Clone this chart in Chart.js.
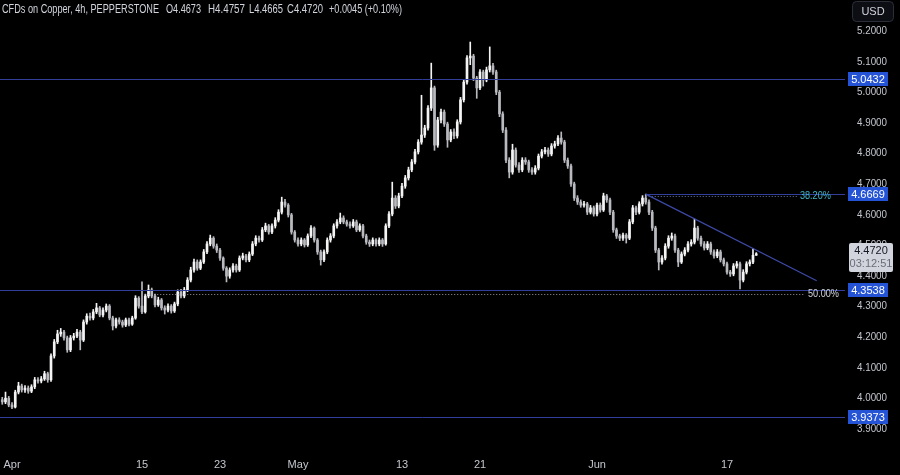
<!DOCTYPE html>
<html><head><meta charset="utf-8">
<script src="https://cdn.jsdelivr.net/npm/chart.js@4.4.1/dist/chart.umd.min.js"></script>
<style>html,body{margin:0;padding:0;background:#000;overflow:hidden}canvas{display:block}</style>
</head><body>
<canvas id="c" width="900" height="475"></canvas>
<script>
// ---- data (4h candles, CFDs on Copper) ----
const firstIndex = -3; // index of first candle (bar slots, Apr 1 first bar = 0)
const opens = [
3.995,3.988,4.000,3.978,3.971,4.020,4.040,4.027,4.033,4.023,
4.037,4.060,4.056,4.063,4.080,4.060,4.138,4.184,4.210,4.216,
4.197,4.158,4.197,4.203,4.216,4.190,4.249,4.268,4.262,4.282,
4.295,4.272,4.288,4.301,4.262,4.236,4.256,4.249,4.239,4.256,
4.242,4.262,4.327,4.301,4.282,4.334,4.354,4.334,4.305,4.321,
4.295,4.288,4.301,4.285,4.308,4.347,4.334,4.354,4.386,4.419,
4.445,4.425,4.445,4.478,4.504,4.523,4.497,4.484,4.458,4.425,
4.399,4.419,4.432,4.419,4.458,4.465,4.452,4.471,4.504,4.523,
4.517,4.550,4.563,4.543,4.563,4.582,4.608,4.641,4.631,4.599,
4.543,4.517,4.504,4.517,4.501,4.530,4.556,4.517,4.478,4.452,
4.478,4.517,4.530,4.563,4.576,4.589,4.576,4.569,4.563,4.576,
4.550,4.563,4.530,4.510,4.504,4.517,4.504,4.517,4.504,4.563,
4.602,4.654,4.628,4.661,4.693,4.720,4.746,4.772,4.805,4.837,
4.860,4.883,4.948,5.014,4.827,4.909,4.935,4.896,4.844,4.870,
4.857,4.903,4.975,5.033,5.112,5.118,5.046,5.014,5.066,5.040,
5.073,5.086,5.066,5.000,4.929,4.876,4.778,4.739,4.811,4.762,
4.746,4.778,4.772,4.746,4.739,4.752,4.791,4.805,4.811,4.798,
4.824,4.831,4.850,4.837,4.778,4.759,4.700,4.654,4.641,4.631,
4.635,4.608,4.622,4.602,4.631,4.615,4.661,4.648,4.608,4.550,
4.530,4.523,4.533,4.523,4.576,4.622,4.608,4.635,4.654,4.641,
4.608,4.556,4.484,4.445,4.458,4.497,4.523,4.530,4.484,4.445,
4.471,4.484,4.504,4.510,4.556,4.523,4.504,4.491,4.504,4.478,
4.465,4.478,4.452,4.439,4.412,4.406,4.432,4.439,4.386,4.412,
4.439,4.445,4.4673];
const highs = [
4.003,4.020,4.006,3.986,4.026,4.052,4.046,4.041,4.040,4.044,
4.068,4.067,4.071,4.088,4.085,4.145,4.192,4.222,4.228,4.222,
4.203,4.205,4.212,4.225,4.222,4.256,4.276,4.278,4.290,4.310,
4.300,4.295,4.308,4.306,4.268,4.262,4.263,4.255,4.262,4.262,
4.268,4.335,4.332,4.380,4.340,4.370,4.360,4.340,4.330,4.326,
4.302,4.308,4.306,4.314,4.354,4.356,4.362,4.394,4.428,4.455,
4.452,4.452,4.486,4.512,4.533,4.528,4.504,4.490,4.462,4.430,
4.426,4.440,4.438,4.465,4.474,4.470,4.478,4.512,4.531,4.530,
4.558,4.572,4.568,4.570,4.590,4.616,4.657,4.650,4.636,4.604,
4.548,4.524,4.524,4.522,4.537,4.564,4.560,4.522,4.484,4.485,
4.524,4.538,4.570,4.584,4.605,4.596,4.582,4.576,4.584,4.582,
4.570,4.568,4.536,4.517,4.524,4.522,4.524,4.522,4.570,4.610,
4.706,4.662,4.670,4.702,4.728,4.755,4.780,4.813,4.845,4.990,
4.892,4.956,5.095,5.020,4.918,4.945,4.942,4.902,4.878,4.880,
4.910,4.983,5.042,5.120,5.164,5.124,5.052,5.074,5.072,5.082,
5.148,5.094,5.072,5.006,4.936,4.884,4.786,4.830,4.818,4.770,
4.786,4.786,4.778,4.754,4.760,4.798,4.813,4.820,4.818,4.832,
4.840,4.858,4.870,4.843,4.785,4.765,4.706,4.662,4.648,4.643,
4.640,4.630,4.628,4.638,4.638,4.670,4.666,4.654,4.614,4.556,
4.536,4.540,4.538,4.584,4.630,4.628,4.642,4.662,4.667,4.648,
4.614,4.562,4.490,4.466,4.505,4.531,4.540,4.536,4.490,4.478,
4.492,4.512,4.518,4.585,4.562,4.530,4.512,4.512,4.510,4.485,
4.486,4.484,4.458,4.445,4.418,4.440,4.447,4.445,4.420,4.446,
4.452,4.488,4.4757];
const lows = [
3.980,3.982,3.972,3.966,3.968,4.014,4.020,4.019,4.016,4.018,
4.031,4.049,4.050,4.058,4.052,4.055,4.131,4.178,4.202,4.190,
4.150,4.152,4.190,4.198,4.158,4.185,4.242,4.255,4.256,4.276,
4.266,4.266,4.282,4.256,4.223,4.230,4.242,4.232,4.234,4.236,
4.238,4.258,4.294,4.276,4.278,4.328,4.328,4.298,4.300,4.288,
4.275,4.282,4.278,4.280,4.302,4.328,4.328,4.348,4.380,4.412,
4.418,4.420,4.440,4.472,4.498,4.490,4.476,4.450,4.418,4.380,
4.392,4.412,4.412,4.414,4.452,4.445,4.446,4.466,4.498,4.510,
4.512,4.544,4.536,4.538,4.556,4.576,4.602,4.624,4.592,4.536,
4.510,4.497,4.498,4.494,4.496,4.525,4.510,4.470,4.435,4.446,
4.472,4.510,4.524,4.556,4.570,4.570,4.562,4.556,4.558,4.544,
4.545,4.524,4.503,4.496,4.498,4.497,4.498,4.496,4.500,4.557,
4.596,4.620,4.622,4.655,4.686,4.713,4.740,4.766,4.798,4.830,
4.852,4.876,4.940,4.810,4.820,4.900,4.888,4.820,4.838,4.848,
4.850,4.896,4.968,5.026,5.090,5.038,4.980,5.008,5.020,5.034,
5.066,5.058,4.992,4.920,4.868,4.770,4.720,4.732,4.755,4.738,
4.740,4.764,4.738,4.731,4.732,4.746,4.785,4.798,4.790,4.792,
4.817,4.825,4.830,4.770,4.751,4.692,4.646,4.633,4.624,4.624,
4.600,4.602,4.595,4.596,4.608,4.610,4.640,4.600,4.542,4.522,
4.515,4.516,4.507,4.518,4.570,4.600,4.602,4.628,4.634,4.600,
4.548,4.476,4.419,4.438,4.452,4.490,4.516,4.476,4.430,4.440,
4.465,4.478,4.497,4.504,4.516,4.497,4.484,4.485,4.470,4.458,
4.459,4.445,4.432,4.405,4.398,4.400,4.425,4.357,4.380,4.406,
4.432,4.440,4.4665];
const closes = [
3.988,4.000,3.978,3.971,4.020,4.040,4.027,4.033,4.023,4.037,
4.060,4.056,4.063,4.080,4.060,4.138,4.184,4.210,4.216,4.197,
4.158,4.197,4.203,4.216,4.190,4.249,4.268,4.262,4.282,4.295,
4.272,4.288,4.301,4.262,4.236,4.256,4.249,4.239,4.256,4.242,
4.262,4.327,4.301,4.282,4.334,4.354,4.334,4.305,4.321,4.295,
4.288,4.301,4.285,4.308,4.347,4.334,4.354,4.386,4.419,4.445,
4.425,4.445,4.478,4.504,4.523,4.497,4.484,4.458,4.425,4.399,
4.419,4.432,4.419,4.458,4.465,4.452,4.471,4.504,4.523,4.517,
4.550,4.563,4.543,4.563,4.582,4.608,4.641,4.631,4.599,4.543,
4.517,4.504,4.517,4.501,4.530,4.556,4.517,4.478,4.452,4.478,
4.517,4.530,4.563,4.576,4.589,4.576,4.569,4.563,4.576,4.550,
4.563,4.530,4.510,4.504,4.517,4.504,4.517,4.504,4.563,4.602,
4.654,4.628,4.661,4.693,4.720,4.746,4.772,4.805,4.837,4.860,
4.883,4.948,5.014,4.827,4.909,4.935,4.896,4.844,4.870,4.857,
4.903,4.975,5.033,5.112,5.118,5.046,5.014,5.066,5.040,5.073,
5.086,5.066,5.000,4.929,4.876,4.778,4.739,4.811,4.762,4.746,
4.778,4.772,4.746,4.739,4.752,4.791,4.805,4.811,4.798,4.824,
4.831,4.850,4.837,4.778,4.759,4.700,4.654,4.641,4.631,4.635,
4.608,4.622,4.602,4.631,4.615,4.661,4.648,4.608,4.550,4.530,
4.523,4.533,4.523,4.576,4.622,4.608,4.635,4.654,4.641,4.608,
4.556,4.484,4.445,4.458,4.497,4.523,4.530,4.484,4.445,4.471,
4.484,4.504,4.510,4.556,4.523,4.504,4.491,4.504,4.478,4.465,
4.478,4.452,4.439,4.412,4.406,4.432,4.439,4.386,4.412,4.439,
4.445,4.467,4.4720];

const xTickIndex  = [0, 40, 64, 88, 120, 144, 180, 220];
const xTickLabels = ['Apr', '15', '23', 'May', '13', '21', 'Jun', '17'];
const yTickValues = [3.9, 4.0, 4.1, 4.2, 4.3, 4.4, 4.5, 4.6, 4.7, 4.8, 4.9, 5.0, 5.1, 5.2];

const levelPrices = [5.0432, 4.6669, 4.3538, 3.9373];
const levelStart  = [null, 195, null, null];      // null = from left edge
const fibLabels = ['38.20%', '50.00%'];
const fibPrices = [4.660, 4.341];
const fibStart  = [195, 41];
const fibEnd    = [241.5, 244];
const trendIndex = [195, 247.6];
const trendPrice = [4.6669, 4.384];

const lastPrice = 4.4720;
const countdown = '03:12:51';
const headerParts = ['CFDs on Copper, 4h, PEPPERSTONE', 'O4.4673', 'H4.4757', 'L4.4665', 'C4.4720', '+0.0045 (+0.10%)'];

// ---- chart ----
const FONT = '"Liberation Sans", Arial, sans-serif';
const idx = closes.map((_, i) => firstIndex + i);
const wickData = idx.map((x, i) => ({x: x, y: [lows[i], highs[i]]}));
const bodyData = idx.map((x, i) => ({x: x, y: [opens[i], closes[i]]}));
const isUp = i => closes[i] >= opens[i];
const UP = '#f4f4f4', DOWN = '#b8bac0';

const overlay = {
  id: 'overlay',
  beforeDraw(chart) {
    const c = chart.ctx; c.save(); c.fillStyle = '#000'; c.fillRect(0, 0, chart.width, chart.height); c.restore();
  },
  afterDatasetsDraw(chart) {
    const c = chart.ctx, xs = chart.scales.x, ys = chart.scales.y, a = chart.chartArea;
    c.save();
    c.beginPath(); c.rect(a.left, a.top, a.right - a.left, a.bottom - a.top); c.clip();
    // horizontal levels
    c.strokeStyle = '#323f9a'; c.lineWidth = 1;
    levelPrices.forEach((p, i) => {
      const y = Math.round(ys.getPixelForValue(p)) + 0.5;
      const x0 = levelStart[i] === null ? a.left : xs.getPixelForValue(levelStart[i]);
      c.beginPath(); c.moveTo(x0, y); c.lineTo(a.right, y); c.stroke();
    });
    // fib dotted
    c.setLineDash([1, 2]);
    fibPrices.forEach((p, i) => {
      const y = Math.round(ys.getPixelForValue(p)) + 0.5;
      c.strokeStyle = i === 0 ? 'rgba(110,140,200,0.85)' : 'rgba(190,190,195,0.8)';
      c.beginPath(); c.moveTo(xs.getPixelForValue(fibStart[i]), y); c.lineTo(xs.getPixelForValue(fibEnd[i]), y); c.stroke();
    });
    c.setLineDash([]);
    // fib labels
    c.font = '11px ' + FONT; c.textBaseline = 'middle'; c.textAlign = 'left';
    fibLabels.forEach((t, i) => {
      c.fillStyle = i === 0 ? '#3fb6c8' : '#d1d4dc';
      c.fillText(t, xs.getPixelForValue(fibEnd[i]) + 3, ys.getPixelForValue(fibPrices[i]), 31);
    });
    // trend line
    c.strokeStyle = '#3d4aa8'; c.lineWidth = 1.2;
    c.beginPath();
    c.moveTo(xs.getPixelForValue(trendIndex[0]), ys.getPixelForValue(trendPrice[0]));
    c.lineTo(xs.getPixelForValue(trendIndex[1]), ys.getPixelForValue(trendPrice[1]));
    c.stroke();
    c.restore();
  },
  afterDraw(chart) {
    const c = chart.ctx, xs = chart.scales.x, ys = chart.scales.y, a = chart.chartArea;
    c.save();
    // axis tick labels (positions from the chart's own scales)
    c.font = '11px ' + FONT; c.fillStyle = '#c3c6ce';
    c.textAlign = 'left'; c.textBaseline = 'middle';
    yTickValues.forEach(v => c.fillText(v.toFixed(4), a.right + 12, ys.getPixelForValue(v), 30));
    c.textAlign = 'center';
    xTickIndex.forEach((k, i) => c.fillText(xTickLabels[i], xs.getPixelForValue(k), a.bottom + 15));
    // level price tags
    levelPrices.forEach(p => {
      const y = Math.round(ys.getPixelForValue(p));
      c.fillStyle = '#2453d6'; c.fillRect(848, y - 7, 40, 14);
      c.fillStyle = '#ffffff'; c.fillText(p.toFixed(4), 868, y + 0.5, 34);
    });
    // current price + countdown tag
    const yp = Math.round(ys.getPixelForValue(lastPrice));
    c.fillStyle = '#d1d4dc';
    c.beginPath(); c.roundRect(849, yp - 11, 44, 29, 2); c.fill();
    c.fillStyle = '#131722'; c.fillText(lastPrice.toFixed(4), 871, yp - 3);
    c.fillStyle = '#6a6d78'; c.fillText(countdown, 871, yp + 10);
    // USD button
    c.strokeStyle = '#2a2e39'; c.lineWidth = 1; c.fillStyle = '#0c0e14';
    c.beginPath(); c.roundRect(852.5, 1.5, 41, 20, 4); c.fill(); c.stroke();
    c.fillStyle = '#d1d4dc'; c.fillText('USD', 873, 12);
    // header
    c.textAlign = 'left'; c.textBaseline = 'alphabetic'; c.font = '12px ' + FONT; c.fillStyle = '#d1d4dc';
    const hx = [2, 166, 208, 249, 287, 329], hw = [157, 35, 37, 34, 36, 73];
    headerParts.forEach((t, i) => c.fillText(t, hx[i], 13, hw[i]));
    c.restore();
  }
};

new Chart(document.getElementById('c').getContext('2d'), {
  type: 'bar',
  data: { datasets: [
    { data: wickData, grouped: false, barThickness: 1, order: 2,
      backgroundColor: ctx => isUp(ctx.dataIndex) ? UP : DOWN },
    { data: bodyData, grouped: false, barThickness: 2, minBarLength: 1, order: 1,
      backgroundColor: ctx => isUp(ctx.dataIndex) ? UP : DOWN }
  ]},
  options: {
    responsive: false, animation: false, devicePixelRatio: 1,
    layout: { padding: 0 },
    plugins: { legend: { display: false }, tooltip: { enabled: false } },
    scales: {
      x: { type: 'linear', min: -3.6923, max: 256.3077, offset: false,
        grid: { display: false, drawTicks: false }, border: { display: false },
        afterBuildTicks: s => { s.ticks = xTickIndex.map(v => ({ value: v })); },
        afterFit: s => { s.height = 25; },
        ticks: { display: false } },
      y: { position: 'right', min: 3.8307, max: 5.3013,
        grid: { display: false, drawTicks: false }, border: { display: false },
        afterBuildTicks: s => { s.ticks = yTickValues.map(v => ({ value: v })); },
        afterFit: s => { s.width = 55; },
        ticks: { display: false } }
    }
  },
  plugins: [overlay]
});
</script>
</body></html>
